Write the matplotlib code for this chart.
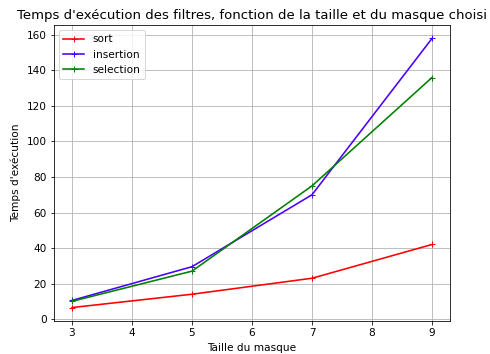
import matplotlib
matplotlib.use("Agg")
import matplotlib.pyplot as plt

masks = [3, 5, 7, 9]
sort_t = [6.5, 14, 23, 42]
insertion_t = [10.5, 29.5, 70, 158]
selection_t = [10, 27, 75, 136]

plt.rcParams['font.size'] = 10.5
fig = plt.figure(figsize=(490/72, 354/72), dpi=72)
ax = fig.add_axes([54/490, 1-321/354, (450-54)/490, (321-25)/354])
ax.plot(masks, sort_t, color='red', marker='+', label='sort', lw=1.6)
ax.plot(masks, insertion_t, color='#4a00ff', marker='+', label='insertion', lw=1.6)
ax.plot(masks, selection_t, color='green', marker='+', label='selection', lw=1.6)
ax.grid(True, color='#b0b0b0')
ax.set_xlabel('Taille du masque', labelpad=5)
ax.set_ylabel("Temps d'exécution", labelpad=6)
ax.set_title("Temps d'exécution des filtres, fonction de la taille et du masque choisi",
             fontsize=13.3)
ax.legend(loc='upper left')
fig.savefig('out.png', dpi=72)
